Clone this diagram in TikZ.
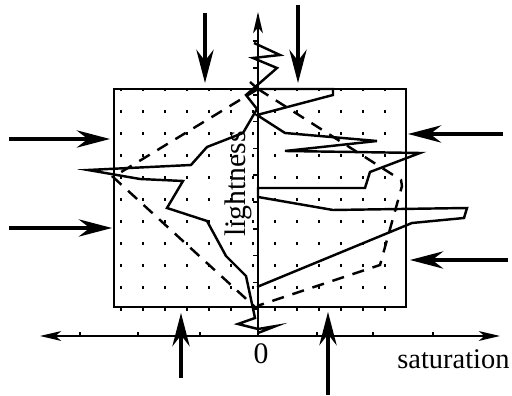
\documentclass[tikz,border=0pt]{standalone}
\usepackage{fontspec}
\setmainfont{Liberation Serif}
\usetikzlibrary{arrows.meta}
\begin{document}
\begin{tikzpicture}[x=0.45pt,y=-0.45pt,
  box/.style={line width=1.1pt},
  curve/.style={line width=1.1pt, line join=miter},
  dashcurve/.style={line width=1.1pt, dash pattern=on 5.5pt off 4pt},
  axisline/.style={line width=0.9pt},
  axhead/.style={-{Stealth[length=9.5pt,width=4.4pt,inset=2.5pt]}},
  bigarrow/.style={line width=1.4pt, -{Stealth[length=15pt,width=7.8pt,inset=5pt]}},
  tick/.style={line width=0.7pt},
  lbl/.style={font=\fontsize{13.4}{16}\selectfont, inner sep=0pt},
  satlbl/.style={font=\fontsize{12.8}{15}\selectfont, inner sep=0pt}
]
\useasboundingbox (0,0) rectangle (512,396);
% grid of dots
\foreach \i in {0,...,12}
  \foreach \j in {0,...,10}
    \fill ({121+22*\i-1.2},{89.5+22*\j-1.2}) rectangle ++(2.4,2.4);
% frame
\draw[box] (114,89) rectangle (406,307);
% dashed curves
\draw[dashcurve] (258,89) -- (113,177) -- (255,307);
\draw[dashcurve] (258,89) -- (401,180) -- (402,186) -- (380,265) -- (257,306);
% solid curves
\draw[curve] (254,43) -- (280,55) -- (253,58) -- (277,68) -- (246,95) -- (257,109)
  -- (243,133) -- (207,147) -- (191,165) -- (88,170) -- (140,179) -- (183,181)
  -- (167,208) -- (207,221) -- (226,256) -- (246,276) -- (255,318) -- (238,324)
  -- (258,329) -- (276,326) -- (258,333);
\draw[curve] (250,82) -- (258,89) -- (333,89) -- (333,95) -- (257,115) -- (285,133)
  -- (377,141) -- (285,151) -- (420,153) -- (370,172) -- (365,188) -- (258,188)
  -- (258,197) -- (333,210) -- (467,208) -- (464,218) -- (412,223) -- (257,287);
% axes
\coordinate (hl) at (40,336);
\coordinate (hr) at (500,336);
\coordinate (vb) at (258,336);
\coordinate (vt) at (258,12);
\draw[axisline, {Stealth[length=9.5pt,width=4.4pt,inset=2.5pt]}-{Stealth[length=9.5pt,width=4.4pt,inset=2.5pt]}] (hl) -- (hr);
\draw[axisline, axhead] (vb) -- (vt);
\foreach \x in {80,138,200,317,373,433}
  \draw[tick] (\x,336) -- (\x,332);
\foreach \k in {1,...,11}
  \draw[tick] ({253},{336-26.8*\k}) -- ({258},{336-26.8*\k});
% outside arrows
\coordinate (t1s) at (205,13);  \coordinate (t1e) at (205,83);
\coordinate (t2s) at (298,5);   \coordinate (t2e) at (298,83);
\coordinate (l1s) at (9,139);   \coordinate (l1e) at (110,139);
\coordinate (l2s) at (9,228);   \coordinate (l2e) at (112,228);
\coordinate (r1s) at (503,134); \coordinate (r1e) at (408,134);
\coordinate (r2s) at (508,260); \coordinate (r2e) at (410,260);
\coordinate (b1s) at (181,378); \coordinate (b1e) at (181,313);
\coordinate (b2s) at (328,395); \coordinate (b2e) at (328,312);
\foreach \a in {t1,t2,l1,l2,r1,r2,b1,b2}
  \draw[bigarrow] (\a s) -- (\a e);
% labels
\node[lbl, rotate=90] (light) at (238,184) {lightness};
\node[lbl, anchor=base] (zero) at (261,364) {0};
\node[satlbl, anchor=base east] (sat) at (510,369) {saturation};
\end{tikzpicture}
\end{document}
